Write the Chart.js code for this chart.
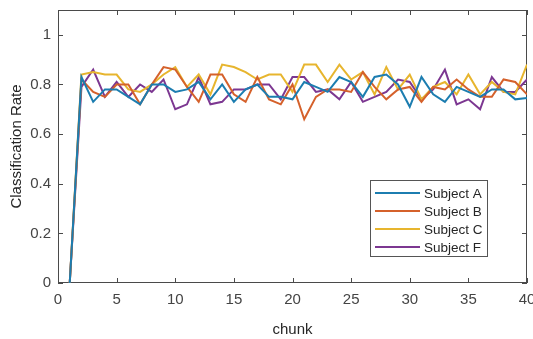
<!DOCTYPE html>
<html>
<head>
<meta charset="utf-8">
<script src="https://cdn.jsdelivr.net/npm/chart.js@4.4.1/dist/chart.umd.min.js"></script>
<style>
  html, body { margin: 0; padding: 0; background: #fff; overflow: hidden; }
  #wrap { width: 533px; height: 339px; position: relative; }
</style>
</head>
<body>
<div id="wrap"><canvas id="rate_chart"></canvas></div>
<script>
// chunk numbers on the x axis
const chunks = [1, 2, 3, 4, 5, 6, 7, 8, 9, 10,
                11, 12, 13, 14, 15, 16, 17, 18, 19, 20,
                21, 22, 23, 24, 25, 26, 27, 28, 29, 30,
                31, 32, 33, 34, 35, 36, 37, 38, 39, 40];

// classification rate per chunk
const subjectA = [0, 0.83, 0.73, 0.78, 0.78, 0.75, 0.72, 0.80, 0.80, 0.77,
                  0.78, 0.81, 0.74, 0.80, 0.73, 0.78, 0.80, 0.75, 0.75, 0.74,
                  0.81, 0.79, 0.77, 0.83, 0.81, 0.75, 0.83, 0.84, 0.80, 0.71,
                  0.83, 0.76, 0.73, 0.79, 0.77, 0.75, 0.78, 0.78, 0.74, 0.745];
const subjectB = [0, 0.82, 0.77, 0.75, 0.80, 0.80, 0.72, 0.80, 0.87, 0.86,
                  0.79, 0.73, 0.84, 0.84, 0.76, 0.73, 0.83, 0.74, 0.72, 0.80,
                  0.66, 0.75, 0.78, 0.78, 0.77, 0.85, 0.79, 0.74, 0.78, 0.79,
                  0.73, 0.79, 0.78, 0.82, 0.78, 0.75, 0.75, 0.82, 0.81, 0.76];
const subjectC = [0, 0.84, 0.85, 0.84, 0.84, 0.78, 0.77, 0.80, 0.84, 0.87,
                  0.79, 0.84, 0.76, 0.88, 0.87, 0.85, 0.82, 0.84, 0.84, 0.77,
                  0.88, 0.88, 0.81, 0.88, 0.82, 0.85, 0.76, 0.87, 0.78, 0.84,
                  0.74, 0.79, 0.81, 0.76, 0.84, 0.76, 0.81, 0.77, 0.76, 0.88];
const subjectF = [0, 0.79, 0.86, 0.75, 0.81, 0.75, 0.80, 0.77, 0.82, 0.70,
                  0.72, 0.83, 0.72, 0.73, 0.78, 0.78, 0.80, 0.80, 0.74, 0.83,
                  0.83, 0.77, 0.78, 0.74, 0.81, 0.73, 0.75, 0.77, 0.82, 0.81,
                  0.74, 0.78, 0.86, 0.72, 0.74, 0.70, 0.83, 0.77, 0.77, 0.82];

const series_names = ["Subject A", "Subject B", "Subject C", "Subject F"];
const series_colors = ["#1c7db0", "#d5612b", "#e7b52e", "#7c3791"];
const x_ticks = [0, 5, 10, 15, 20, 25, 30, 35, 40];
const y_ticks = [0, 0.2, 0.4, 0.6, 0.8, 1];

const tick_font = { family: "'Liberation Sans', Arial, sans-serif", size: 15 };
const axis_color = "#4a4a4a";

const points = (vals) => chunks.map((c, i) => ({ x: c, y: vals[i] }));

// box round the plot with inward ticks on all four sides, like matlab
const boxPlugin = {
    id: 'box',
    beforeDatasetsDraw(chart) {
        const { ctx, chartArea: a, scales } = chart;
        const len = 5;
        ctx.save();
        ctx.strokeStyle = axis_color;
        ctx.lineWidth = 1;
        ctx.strokeRect(a.left + 0.5, a.top + 0.5, a.right - a.left - 1, a.bottom - a.top - 1);
        ctx.beginPath();
        x_ticks.forEach(v => {
            const px = Math.round(scales.x.getPixelForValue(v)) + 0.5;
            ctx.moveTo(px, a.bottom); ctx.lineTo(px, a.bottom - len);
            ctx.moveTo(px, a.top); ctx.lineTo(px, a.top + len);
        });
        y_ticks.forEach(v => {
            const py = Math.round(scales.y.getPixelForValue(v)) + 0.5;
            ctx.moveTo(a.left, py); ctx.lineTo(a.left + len, py);
            ctx.moveTo(a.right, py); ctx.lineTo(a.right - len, py);
        });
        ctx.stroke();
        ctx.restore();
    }
};

// legend inside the plot, bottom right
const legendPlugin = {
    id: 'innerLegend',
    afterDatasetsDraw(chart) {
        const { ctx, chartArea: a } = chart;
        const w = 117, h = 76;
        const x0 = a.right - 40 - w;
        const y0 = a.bottom - 27 - h;
        ctx.save();
        ctx.fillStyle = "#fff";
        ctx.fillRect(x0, y0, w, h);
        ctx.strokeStyle = "#555";
        ctx.lineWidth = 1;
        ctx.strokeRect(Math.round(x0) + 0.5, Math.round(y0) + 0.5, w, h);
        ctx.font = "13.5px 'Liberation Sans', Arial, sans-serif";
        ctx.textBaseline = "middle";
        chart.data.datasets.forEach((ds, i) => {
            const cy = y0 + 13 + i * 18;
            ctx.strokeStyle = ds.borderColor;
            ctx.lineWidth = 2;
            ctx.beginPath();
            ctx.moveTo(x0 + 5, cy); ctx.lineTo(x0 + 50, cy);
            ctx.stroke();
            ctx.fillStyle = "#262626";
            ctx.fillText(ds.label, x0 + 54, cy + 1);
        });
        ctx.restore();
    }
};

const ctx = document.getElementById('rate_chart').getContext('2d');
new Chart(ctx, {
    type: 'line',
    data: {
        datasets: [subjectA, subjectB, subjectC, subjectF].map((vals, i) => ({
            label: series_names[i],
            data: points(vals),
            borderColor: series_colors[i],
            backgroundColor: series_colors[i],
            borderWidth: 2,
            pointRadius: 0,
            tension: 0,
            fill: false
        }))
    },
    options: {
        animation: false,
        responsive: true,
        maintainAspectRatio: false,
        layout: { padding: { top: 10, right: 6, left: 0, bottom: 0 } },
        plugins: {
            legend: { display: false },
            tooltip: { enabled: false }
        },
        scales: {
            x: {
                type: 'linear',
                min: 0,
                max: 40,
                grid: { display: false, drawTicks: false },
                border: { display: false },
                ticks: {
                    stepSize: 5,
                    padding: 8,
                    color: "#444",
                    font: tick_font,
                    maxRotation: 0
                },
                title: {
                    display: true,
                    text: 'chunk',
                    color: "#262626",
                    font: tick_font,
                    padding: { top: 0, bottom: 0 }
                },
                afterFit: (s) => { s.height = 56; s.paddingLeft = 0; s.paddingRight = 0; }
            },
            y: {
                min: 0,
                max: 1.1,
                grid: { display: false, drawTicks: false },
                border: { display: false },
                afterBuildTicks: (s) => { s.ticks = s.ticks.filter(t => t.value <= 1.0001); },
                ticks: {
                    stepSize: 0.2,
                    padding: 7,
                    color: "#444",
                    font: tick_font,
                    callback: (v) => String(+v.toFixed(1))
                },
                title: {
                    display: true,
                    text: 'Classification Rate',
                    color: "#262626",
                    font: tick_font,
                    padding: { top: 8, bottom: 0 }
                },
                afterFit: (s) => { s.width = 58; s.paddingTop = 0; s.paddingBottom = 0; }
            }
        }
    },
    plugins: [boxPlugin, legendPlugin]
});
</script>
</body>
</html>
